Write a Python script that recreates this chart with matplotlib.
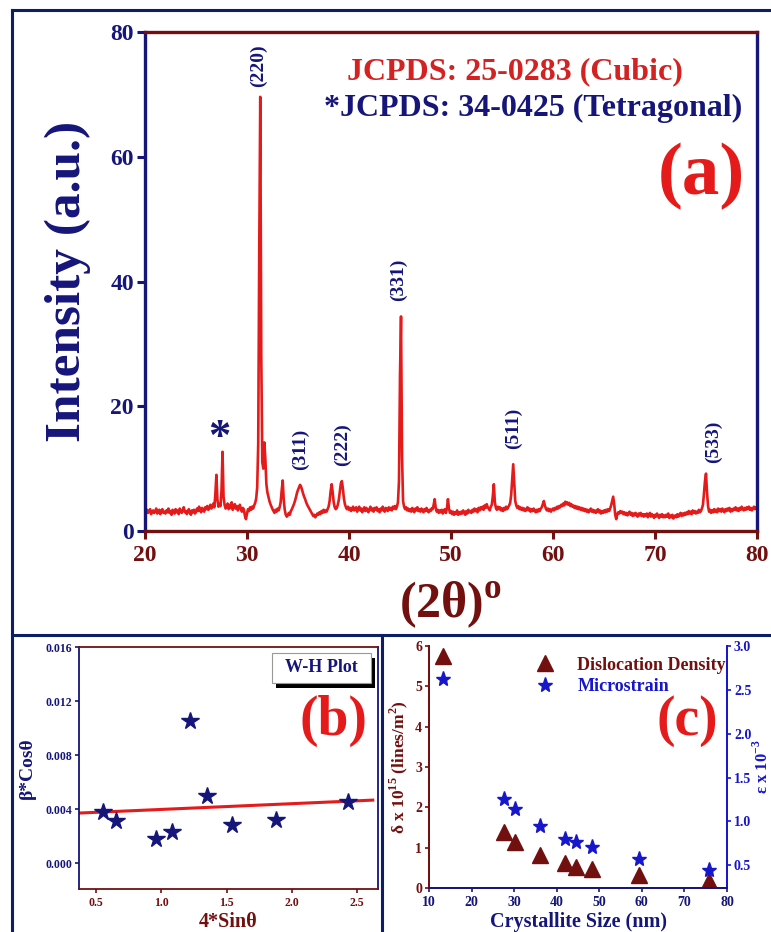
import numpy as np
import matplotlib
matplotlib.use("Agg")
import matplotlib.pyplot as plt
from matplotlib.lines import Line2D
from matplotlib.patches import Rectangle

plt.rcParams['font.family'] = ['Liberation Serif', 'DejaVu Serif']
plt.rcParams['font.weight'] = 'bold'
plt.rcParams['axes.labelweight'] = 'bold'
plt.rcParams['mathtext.fontset'] = 'custom'
plt.rcParams['mathtext.rm'] = 'Liberation Serif:bold'
plt.rcParams['mathtext.bf'] = 'Liberation Serif:bold'

NAVY = "#15157a"
MAROON = "#720f0f"
RED = "#e51b1b"
TXTRED = "#d42222"
BLUE = "#1616cc"
FRAME = "#0c1f66"
B = "bold"

# ---------------- XRD pattern (a): intensity sampled every 0.1 deg, 20-80 ----------------
two_theta_start, two_theta_step = 20.0, 0.1
intensity = [
    3.2, 2.8, 3.4, 2.9, 3.1, 3.5, 2.7, 3.0, 3.3, 2.9,   # 20
    3.1, 3.6, 2.8, 3.0, 3.4, 2.7, 3.2, 3.5, 2.9, 3.1,   # 21
    2.8, 3.3, 3.0, 3.6, 2.9, 3.2, 2.6, 3.4, 3.1, 2.8,   # 22
    3.5, 3.0, 3.3, 2.7, 3.6, 3.1, 2.9, 3.4, 3.8, 3.0,   # 23
    3.2, 2.7, 3.1, 3.5, 2.9, 2.6, 3.3, 3.0, 3.4, 2.8,   # 24
    3.1, 3.6, 3.2, 3.9, 3.3, 3.0, 3.7, 3.4, 3.1, 3.8,   # 25
    3.5, 4.0, 3.4, 3.7, 4.2, 3.6, 3.9, 4.4, 3.8, 6.0,   # 26
    9.0, 5.0, 3.9, 4.4, 4.0, 6.5, 12.7, 5.5, 4.2, 3.6,  # 27
    3.9, 4.4, 3.5, 4.2, 3.7, 4.6, 3.4, 3.9, 4.3, 3.6,   # 28
    4.0, 3.3, 3.8, 4.2, 3.5, 3.1, 3.7, 3.4, 2.4, 1.9,   # 29
    2.8, 3.5, 3.2, 3.8, 3.4, 3.9, 3.6, 4.1, 4.5, 5.2,   # 30
    7.0, 14.0, 45.0, 69.6, 28.0, 11.0, 10.0, 14.2, 11.5, 7.5,  # 31
    6.2, 5.5, 4.8, 4.3, 3.9, 3.5, 3.2, 2.9, 3.4, 3.1,   # 32
    3.6, 3.3, 3.8, 4.6, 6.5, 8.1, 5.0, 3.4, 2.6, 2.3,   # 33
    2.5, 2.9, 2.6, 3.2, 3.5, 3.9, 4.3, 4.8, 5.4, 6.1,   # 34
    6.6, 7.0, 7.4, 7.1, 6.6, 6.0, 5.5, 5.1, 4.6, 4.2,   # 35
    3.9, 3.6, 3.3, 3.0, 2.7, 2.4, 2.6, 2.2, 2.5, 2.8,   # 36
    2.6, 3.0, 2.7, 3.2, 2.9, 3.4, 3.0, 3.3, 3.1, 3.5,   # 37
    3.9, 4.8, 6.4, 7.5, 6.2, 4.6, 3.8, 3.5, 3.7, 4.2,   # 38
    5.0, 6.3, 7.6, 8.0, 6.8, 5.2, 4.3, 3.8, 3.5, 3.9,   # 39
    3.4, 3.7, 3.2, 3.6, 3.9, 3.3, 3.5, 3.8, 3.1, 3.6,   # 40
    3.9, 3.3, 3.6, 3.0, 3.5, 3.8, 3.2, 3.7, 3.4, 3.0,   # 41
    3.5, 3.9, 3.3, 3.6, 3.1, 3.7, 3.4, 3.8, 3.2, 3.5,   # 42
    3.0, 3.6, 3.3, 3.9, 3.4, 3.1, 3.7, 3.5, 3.2, 3.8,   # 43
    3.4, 3.7, 3.3, 3.9, 3.6, 4.0, 3.5, 3.9, 4.6, 8.0,   # 44
    25.0, 34.4, 12.0, 4.8, 3.9, 3.5, 3.8, 3.3, 3.6, 3.2,  # 45
    3.5, 3.1, 3.7, 3.4, 3.0, 3.6, 3.3, 3.8, 3.2, 3.5,   # 46
    3.1, 3.6, 3.4, 3.0, 3.5, 3.2, 3.7, 3.3, 3.0, 3.4,   # 47
    3.2, 3.6, 3.5, 4.2, 5.1, 3.7, 3.1, 3.4, 2.9, 3.3,   # 48
    3.0, 3.4, 2.8, 3.2, 3.5, 2.9, 3.6, 5.1, 3.6, 2.9,   # 49
    3.2, 2.7, 3.1, 2.6, 3.0, 2.8, 3.3, 2.6, 3.0, 2.7,   # 50
    3.1, 2.8, 3.3, 2.9, 2.6, 3.2, 2.8, 3.4, 3.0, 3.2,   # 51
    2.9, 3.4, 3.1, 3.6, 3.2, 3.5, 3.0, 3.7, 3.3, 3.8,   # 52
    3.5, 3.9, 3.4, 4.1, 3.7, 4.3, 3.8, 3.6, 3.3, 3.9,   # 53
    4.2, 5.6, 7.5, 4.6, 3.7, 3.4, 3.9, 3.5, 3.8, 3.3,   # 54
    3.6, 3.2, 3.7, 3.4, 3.9, 3.5, 3.8, 4.1, 4.5, 5.8,   # 55
    8.2, 10.7, 7.6, 4.8, 4.1, 3.7, 4.0, 3.5, 3.8, 3.4,  # 56
    3.7, 3.3, 3.6, 3.2, 3.5, 3.8, 3.3, 3.6, 3.1, 3.5,   # 57
    3.2, 3.6, 3.3, 3.0, 3.4, 3.1, 3.5, 3.2, 3.6, 3.8,   # 58
    4.3, 4.8, 4.1, 3.6, 3.3, 3.6, 3.2, 3.5, 3.1, 3.4,   # 59
    3.6, 3.3, 3.7, 3.5, 3.9, 3.6, 4.0, 3.8, 4.2, 4.0,   # 60
    4.4, 4.1, 4.7, 4.3, 4.6, 4.2, 4.5, 4.0, 4.3, 3.9,   # 61
    4.1, 3.7, 4.0, 3.6, 3.9, 3.5, 3.8, 3.4, 3.7, 3.3,   # 62
    3.6, 3.2, 3.5, 3.1, 3.4, 3.0, 3.3, 3.6, 3.1, 3.4,   # 63
    3.0, 3.3, 2.9, 3.2, 3.5, 3.0, 3.3, 2.8, 3.2, 2.9,   # 64
    3.3, 3.0, 3.4, 3.1, 3.5, 3.2, 3.6, 4.1, 4.8, 5.5,   # 65
    4.3, 2.6, 1.9, 2.7, 3.0, 2.8, 3.2, 2.9, 3.1, 2.7,   # 66
    3.0, 2.6, 2.9, 2.5, 2.8, 3.1, 2.6, 2.9, 2.4, 2.8,   # 67
    2.5, 2.9, 2.6, 2.3, 2.8, 2.5, 2.9, 2.4, 2.7, 2.3,   # 68
    2.7, 2.4, 2.8, 2.2, 2.6, 2.9, 2.3, 2.7, 2.5, 2.1,   # 69
    2.6, 2.3, 2.8, 2.4, 2.1, 2.6, 2.3, 2.7, 2.2, 2.5,   # 70
    2.2, 2.6, 2.3, 2.8, 2.1, 2.5, 2.2, 2.6, 2.0, 2.4,   # 71
    2.5, 2.2, 2.7, 2.3, 2.6, 2.9, 2.4, 2.8, 2.5, 2.9,   # 72
    2.6, 3.0, 2.7, 3.2, 2.8, 3.1, 2.7, 3.3, 2.9, 3.2,   # 73
    2.8, 3.1, 2.9, 3.4, 3.0, 3.2, 3.6, 4.2, 6.0, 8.0,   # 74
    9.2, 6.2, 4.0, 3.1, 3.4, 2.9, 3.3, 3.0, 3.5, 3.1,   # 75
    3.4, 3.0, 3.6, 3.2, 3.5, 3.1, 3.6, 3.3, 3.0, 3.5,   # 76
    3.2, 3.6, 3.3, 3.7, 3.1, 3.5, 3.2, 3.6, 3.4, 3.8,   # 77
    3.3, 3.6, 3.2, 3.7, 3.4, 3.9, 3.5, 3.3, 3.7, 3.4,   # 78
    3.8, 3.5, 3.9, 3.4, 3.7, 3.3, 3.6, 3.9, 3.5, 3.8,   # 79
    3.6,                                                # 80
]
two_theta = two_theta_start + two_theta_step * np.arange(len(intensity))

peak_labels = ["(220)", "(311)", "(222)", "(331)", "(511)", "(533)"]

# ---------------- W-H plot (b) ----------------
wh_x = [0.55, 0.65, 0.96, 1.08, 1.22, 1.35, 1.54, 1.88, 2.43]
wh_y = [0.0038, 0.0031, 0.0018, 0.0023, 0.0105, 0.0050, 0.0028, 0.0032, 0.0045]

# ---------------- Dislocation density / microstrain (c) ----------------
cryst_size = [13.3, 27.5, 30.2, 36.1, 41.9, 44.5, 48.4, 59.4, 75.8]
disloc_density = [5.74, 1.38, 1.15, 0.81, 0.61, 0.53, 0.46, 0.31, 0.18]
microstrain = [2.62, 1.26, 1.14, 0.95, 0.80, 0.77, 0.71, 0.57, 0.45]

W, H = 771, 932
fig = plt.figure(figsize=(W / 100, H / 100), dpi=100)


def fx(px):
    return px / W


def fy(py):
    return 1 - py / H


def box(l, t, r, b):
    return [fx(l), fy(b), fx(r) - fx(l), fy(t) - fy(b)]


# outer panel frame
for xs, ys in [((12, 12), (10, 932)), ((12, 771), (10, 10)),
               ((12, 771), (635, 635)), ((382, 382), (635, 932))]:
    fig.add_artist(Line2D([fx(x) for x in xs], [fy(y) for y in ys],
                          color=FRAME, lw=2.2, transform=fig.transFigure))

# ================= panel (a) =================
axa = fig.add_axes(box(145, 32, 757, 531))
axa.plot(two_theta, intensity, color=RED, lw=1.9)
axa.set_xlim(20, 80)
axa.set_ylim(0, 80)
axa.set_xticks(range(20, 81, 10))
axa.set_yticks(range(0, 81, 20))
for s in ("left", "right"):
    axa.spines[s].set_color(NAVY)
for s in ("top", "bottom"):
    axa.spines[s].set_color(MAROON)
for s in axa.spines.values():
    s.set_linewidth(2.4)
axa.tick_params(axis="x", colors=MAROON, labelsize=17, length=6, width=2.2, pad=4)
axa.tick_params(axis="y", colors=NAVY, labelsize=17, length=6, width=2.2, pad=2)
for t in axa.get_xticklabels() + axa.get_yticklabels():
    t.set_fontweight(B)
axa.set_ylabel("Intensity (a.u.)", color=NAVY, fontsize=37, fontweight=B, labelpad=14)
axa.set_xlabel(r"(2θ)$^\mathregular{o}$", color=MAROON, fontsize=36, fontweight=B,
               labelpad=10)

label_pos = [(258, 66), (300, 449), (342, 445), (398, 280), (513, 428), (713, 442)]
for txt, (px, py) in zip(peak_labels, label_pos):
    fig.text(fx(px), fy(py), txt, rotation=90, ha="center", va="center",
             color=NAVY, fontsize=14, fontweight=B)
fig.text(fx(219), fy(438), "*", ha="center", va="center", color=NAVY, fontsize=32,
         fontweight=B)

fig.text(fx(515), fy(72), "JCPDS: 25-0283 (Cubic)", ha="center", va="center",
         color=TXTRED, fontsize=23, fontweight=B)
fig.text(fx(533), fy(108), "*JCPDS: 34-0425 (Tetragonal)", ha="center", va="center",
         color=NAVY, fontsize=23, fontweight=B)
fig.text(fx(701), fy(176), "(a)", ha="center", va="center", color=RED, fontsize=54,
         fontweight=B)

# ================= panel (b) =================
axb = fig.add_axes(box(79, 647, 378, 889))
axb.plot(wh_x, wh_y, linestyle="none", marker="*", markersize=13,
         color=NAVY, zorder=3)
slope, icpt = np.polyfit(wh_x, wh_y, 1)
fit_x = np.array([0.37, 2.62])
axb.plot(fit_x, slope * fit_x + icpt, color=RED, lw=2.2, zorder=2)
axb.set_xlim(0.37, 2.66)
axb.set_ylim(-0.0019, 0.016)
axb.set_xticks([0.5, 1.0, 1.5, 2.0, 2.5])
axb.set_yticks([0.0, 0.004, 0.008, 0.012, 0.016])
axb.set_yticklabels(["0.000", "0.004", "0.008", "0.012", "0.016"])
for s in ("left", "right"):
    axb.spines[s].set_color(NAVY)
for s in ("top", "bottom"):
    axb.spines[s].set_color(MAROON)
for s in axb.spines.values():
    s.set_linewidth(1.3)
axb.tick_params(axis="x", colors=MAROON, labelsize=8.5, length=3, width=1.2, pad=3)
axb.tick_params(axis="y", colors=NAVY, labelsize=8.5, length=3, width=1.2, pad=2)
for t in axb.get_xticklabels() + axb.get_yticklabels():
    t.set_fontweight(B)
axb.set_ylabel("β*Cosθ", color=NAVY, fontsize=14, fontweight=B, labelpad=7)
axb.set_xlabel("4*Sinθ", color=MAROON, fontsize=14.5, fontweight=B, labelpad=2)

# W-H legend box with drop shadow
fig.add_artist(Rectangle((fx(276), fy(688)), fx(371) - fx(272), fy(653) - fy(683),
                         transform=fig.transFigure, facecolor="black", edgecolor="none"))
fig.add_artist(Rectangle((fx(272), fy(683)), fx(371) - fx(272), fy(653) - fy(683),
                         transform=fig.transFigure, facecolor="white",
                         edgecolor="#999999", lw=0.8))
fig.text(fx(321), fy(668), "W-H Plot", ha="center", va="center", color=NAVY,
         fontsize=13, fontweight=B)
fig.text(fx(333), fy(721), "(b)", ha="center", va="center", color=RED, fontsize=40,
         fontweight=B)

# ================= panel (c) =================
axc = fig.add_axes(box(429, 646, 727, 888))
axc2 = axc.twinx()
h1, = axc.plot(cryst_size, disloc_density, linestyle="none", marker="^",
               markersize=11, color=MAROON, label="Dislocation Density")
h2, = axc2.plot(cryst_size, microstrain, linestyle="none", marker="*",
                markersize=11, color=BLUE, label="Microstrain")
axc.set_xlim(10, 80)
axc.set_ylim(0, 6)
axc2.set_ylim(0.24, 3.0)
axc.set_xticks(range(10, 81, 10))
axc.set_yticks(range(0, 7))
axc2.set_yticks([0.5, 1.0, 1.5, 2.0, 2.5, 3.0])
axc2.set_yticklabels(["0.5", "1.0", "1.5", "2.0", "2.5", "3.0"])
for a in (axc, axc2):
    a.spines["top"].set_visible(False)
    a.spines["left"].set_color(MAROON)
    a.spines["bottom"].set_color(NAVY)
    a.spines["right"].set_color(BLUE)
    for s in a.spines.values():
        s.set_linewidth(1.3)
axc.tick_params(axis="x", colors=NAVY, labelsize=10, length=3, width=1.2, pad=3)
axc.tick_params(axis="y", colors=MAROON, labelsize=10, length=3, width=1.2, pad=2)
axc2.tick_params(axis="y", colors=BLUE, labelsize=10, length=3, width=1.2, pad=2)
for t in axc.get_xticklabels() + axc.get_yticklabels() + axc2.get_yticklabels():
    t.set_fontweight(B)
axc.set_xlabel("Crystallite Size (nm)", color=NAVY, fontsize=14.5, fontweight=B,
               labelpad=2)
axc.set_ylabel(r"δ x 10$^\mathregular{15}$ (lines/m$^\mathregular{2}$)", color=MAROON,
               fontsize=12.5, fontweight=B, labelpad=4)
axc2.set_ylabel(r"ε x 10$^\mathregular{-3}$", color=BLUE, fontsize=12, fontweight=B,
                labelpad=1)
leg = axc2.legend([h1, h2], ["Dislocation Density", "Microstrain"],
                  loc="upper left", bbox_to_anchor=(fx(514), fy(644)),
                  bbox_transform=fig.transFigure, frameon=False,
                  prop={"size": 13, "weight": "bold"},
                  handletextpad=0.8, labelspacing=0.25, borderpad=0.2)
leg.get_texts()[0].set_color(MAROON)
leg.get_texts()[1].set_color(BLUE)
fig.text(fx(687), fy(721), "(c)", ha="center", va="center", color=RED, fontsize=40,
         fontweight=B)

fig.savefig("out.png", dpi=100)
